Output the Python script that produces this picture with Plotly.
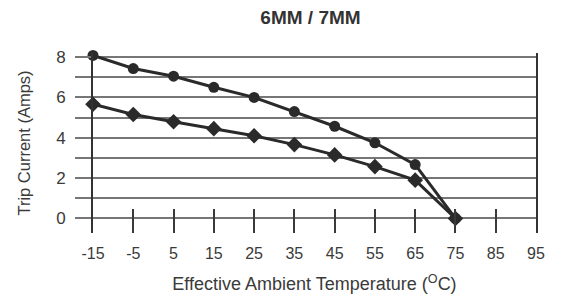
import plotly.graph_objects as go

temps = [-15, -5, 5, 15, 25, 35, 45, 55, 65, 75]
current_7mm = [8.08, 7.43, 7.05, 6.5, 6.0, 5.3, 4.57, 3.75, 2.67, 0.0]
current_6mm = [5.66, 5.15, 4.79, 4.45, 4.1, 3.66, 3.15, 2.57, 1.9, 0.0]
x_ticks = [-15, -5, 5, 15, 25, 35, 45, 55, 65, 75, 85, 95]
y_ticks = [0, 2, 4, 6, 8]
y_minor_ticks = [1, 3, 5, 7]

LINE = "#2a2a2a"
GRID = "#767676"
TEXT = "#3a3a3a"

fig = go.Figure()
fig.add_trace(go.Scatter(
    x=temps, y=current_7mm, mode="lines+markers",
    line=dict(color=LINE, width=3),
    marker=dict(symbol="circle", size=11, color=LINE),
    cliponaxis=False, showlegend=False))
fig.add_trace(go.Scatter(
    x=temps, y=current_6mm, mode="lines+markers",
    line=dict(color=LINE, width=3),
    marker=dict(symbol="diamond", size=12, color=LINE),
    cliponaxis=False, showlegend=False))

# page body has an 8px margin, so the figure is sized/placed to compensate
fig.update_layout(
    width=554, height=295,
    margin=dict(l=85, r=26, t=45, b=66),
    paper_bgcolor="white", plot_bgcolor="white",
    font=dict(family="Liberation Sans, Arial, sans-serif", color=TEXT, size=16),
    title=dict(text="<b>6MM / 7MM</b>", x=0.546, xanchor="center",
               y=0.968, yanchor="middle",
               font=dict(size=19, color="#333")),
    xaxis=dict(
        range=[-15, 95], tickvals=x_ticks, ticktext=[str(v) for v in x_ticks],
        showgrid=False, zeroline=False, showline=False,
        ticks="inside", ticklen=24, tickwidth=1.5, tickcolor="#3a3a3a",
        ticklabelstandoff=9,
        tickfont=dict(size=16),
        title=dict(text="Effective Ambient Temperature (<sup>O</sup>C)",
                   font=dict(size=18), standoff=16),
    ),
    yaxis=dict(
        range=[-0.72, 8.2], tickvals=y_ticks, ticktext=[str(v) for v in y_ticks],
        showgrid=True, gridcolor=GRID, gridwidth=1.6,
        zeroline=False,
        showline=True, linecolor="#333", linewidth=1.6, mirror=True,
        ticks="outside", ticklen=16, tickwidth=1.6, tickcolor=GRID,
        ticklabelstandoff=6,
        tickfont=dict(size=17),
        minor=dict(tickvals=y_minor_ticks, showgrid=True, gridcolor=GRID,
                   gridwidth=1.6, ticks="outside", ticklen=16,
                   tickwidth=1.6, tickcolor=GRID),
        title=dict(text="Trip Current (Amps)", font=dict(size=16.5), standoff=22),
    ),
)

fig.write_html("out.html")
